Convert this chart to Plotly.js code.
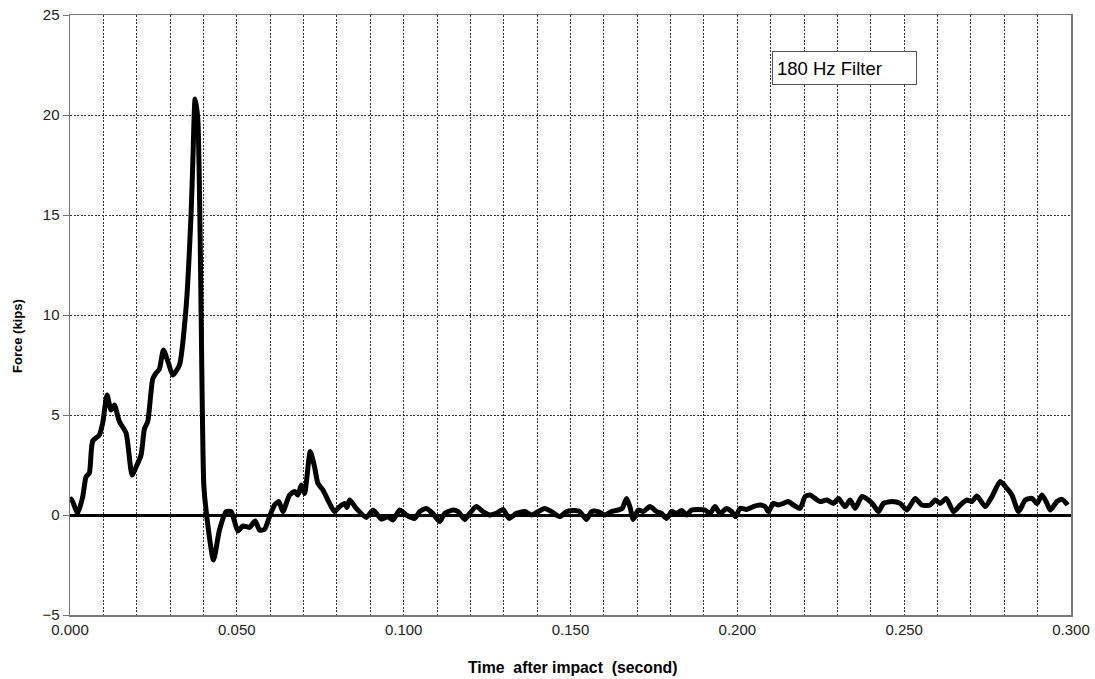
<!DOCTYPE html>
<html>
<head>
<meta charset="utf-8">
<script src="https://cdn.plot.ly/plotly-3.0.1.min.js"></script>
<style>html,body{margin:0;padding:0;background:#fff;}#chart{width:1095px;height:679px;}</style>
</head>
<body>
<div id="chart"></div>
<script>
const timeSec = [0.0000,0.0004,0.0023,0.0038,0.0048,0.0058,0.0068,0.0088,0.0098,0.0111,0.0123,0.0133,0.0148,0.0168,0.0186,0.0198,0.0213,0.0223,0.0233,0.0248,0.0258,0.0268,0.0280,0.0295,0.0308,0.0328,0.0348,0.0363,0.0368,0.0375,0.0383,0.0390,0.0396,0.0401,0.0408,0.0430,0.0448,0.0468,0.0483,0.0503,0.0518,0.0538,0.0555,0.0568,0.0583,0.0598,0.0613,0.0626,0.0638,0.0658,0.0673,0.0683,0.0693,0.0703,0.0720,0.0733,0.0743,0.0758,0.0778,0.0793,0.0808,0.0823,0.0830,0.0838,0.0858,0.0888,0.0908,0.0933,0.0953,0.0968,0.0988,0.1008,0.1033,0.1048,0.1067,0.1087,0.1108,0.1123,0.1148,0.1163,0.1183,0.1198,0.1218,0.1238,0.1258,0.1278,0.1298,0.1316,0.1338,0.1363,0.1383,0.1398,0.1423,0.1443,0.1468,0.1488,0.1513,0.1528,0.1548,0.1563,0.1583,0.1603,0.1623,0.1643,0.1655,0.1668,0.1678,0.1688,0.1703,0.1718,0.1738,0.1758,0.1773,0.1788,0.1803,0.1818,0.1833,0.1848,0.1863,0.1883,0.1903,0.1918,0.1933,0.1948,0.1968,0.1983,0.1995,0.2008,0.2028,0.2048,0.2068,0.2083,0.2093,0.2108,0.2123,0.2138,0.2153,0.2168,0.2188,0.2203,0.2218,0.2233,0.2248,0.2268,0.2288,0.2303,0.2323,0.2338,0.2353,0.2373,0.2393,0.2408,0.2423,0.2438,0.2463,0.2488,0.2508,0.2533,0.2553,0.2578,0.2593,0.2608,0.2626,0.2648,0.2668,0.2688,0.2703,0.2718,0.2743,0.2763,0.2788,0.2808,0.2823,0.2843,0.2863,0.2883,0.2898,0.2913,0.2928,0.2938,0.2958,0.2973,0.2990];
const forceKips = [0.7,0.8,0.1,0.9,1.9,2.1,3.7,4.0,4.6,6.0,5.25,5.5,4.67,4.1,2.0,2.4,3.0,4.3,4.67,6.8,7.1,7.3,8.25,7.6,7.0,7.5,10.4,15.1,17.6,20.8,19.8,14.0,6.0,1.5,0.2,-2.25,-0.75,0.17,0.17,-0.8,-0.55,-0.62,-0.3,-0.75,-0.72,-0.08,0.5,0.67,0.17,1.0,1.17,1.0,1.5,1.08,3.17,2.4,1.58,1.25,0.58,0.17,0.42,0.58,0.38,0.75,0.33,-0.12,0.25,-0.2,-0.08,-0.25,0.25,0.0,-0.17,0.17,0.33,0.08,-0.33,0.08,0.25,0.17,-0.22,0.08,0.42,0.17,0.0,0.08,0.28,-0.17,0.08,0.17,0.0,0.12,0.33,0.17,-0.08,0.17,0.22,0.17,-0.22,0.17,0.17,0.0,0.17,0.25,0.33,0.83,0.42,-0.22,0.25,0.17,0.42,0.17,0.08,-0.17,0.17,0.08,0.22,0.0,0.25,0.28,0.25,0.08,0.42,0.08,0.33,0.17,-0.08,0.33,0.28,0.42,0.5,0.42,0.17,0.58,0.5,0.58,0.67,0.5,0.33,0.92,1.0,0.83,0.67,0.75,0.58,0.83,0.42,0.75,0.33,0.92,0.75,0.5,0.17,0.58,0.67,0.58,0.25,0.83,0.5,0.5,0.75,0.58,0.83,0.17,0.5,0.75,0.67,0.95,0.42,0.92,1.67,1.33,1.0,0.17,0.75,0.83,0.58,1.0,0.58,0.25,0.67,0.78,0.5];
const xTickVals = [0, 0.05, 0.1, 0.15, 0.2, 0.25, 0.3];
const xTickText = ['0.000','0.050','0.100','0.150','0.200','0.250','0.300'];
const yTickVals = [-5, 0, 5, 10, 15, 20, 25];
const legendLabel = '180 Hz Filter';
const xTitle = 'Time  after impact  (second)';
const yTitle = 'Force (kips)';

const font = 'Arial, "Liberation Sans", sans-serif';
const gridDash = '2px,1.5px';
const gridColor = '#333';
const trace = {
  x: timeSec, y: forceKips, type: 'scatter', mode: 'lines',
  line: {color: '#000', width: 5, shape: 'spline', smoothing: 0.6},
  hoverinfo: 'skip', showlegend: false
};
const layout = {
  width: 1095, height: 679,
  margin: {l: 70, r: 24, t: 15, b: 64},
  paper_bgcolor: '#fff', plot_bgcolor: '#fff',
  showlegend: false,
  xaxis: {
    range: [0, 0.3], tickvals: xTickVals, ticktext: xTickText,
    showgrid: true, gridcolor: gridColor, griddash: gridDash, gridwidth: 1,
    minor: {dtick: 0.01, tick0: 0, showgrid: true, gridcolor: gridColor, griddash: gridDash, gridwidth: 1},
    showline: true, linecolor: '#777', linewidth: 1.5, mirror: true,
    ticks: '', zeroline: false,
    tickfont: {family: font, size: 15, color: '#222'},
    fixedrange: true
  },
  yaxis: {
    range: [-5, 25], tickvals: yTickVals,
    showgrid: true, gridcolor: gridColor, griddash: gridDash, gridwidth: 1,
    showline: true, linecolor: '#777', linewidth: 1.5, mirror: true,
    ticks: 'outside', ticklen: 6, tickcolor: '#777',
    zeroline: true, zerolinecolor: '#000', zerolinewidth: 3,
    tickfont: {family: font, size: 15, color: '#222'},
    fixedrange: true
  },
  annotations: [{
    xref: 'paper', yref: 'paper', x: 0.7013, y: 0.9117, xanchor: 'left', yanchor: 'middle',
    text: legendLabel, showarrow: false, align: 'left', width: 135, height: 24,
    font: {family: font, size: 18.5, color: '#000'},
    bgcolor: '#fff', bordercolor: '#555', borderwidth: 1, borderpad: 4
  }, {
    xref: 'paper', yref: 'paper', x: 0.5025, y: -0.0883, xanchor: 'center', yanchor: 'middle',
    text: xTitle, showarrow: false,
    font: {family: font, size: 15.8, color: '#000', weight: 'bold'}
  }, {
    xref: 'paper', yref: 'paper', x: -0.052, y: 0.465, xanchor: 'center', yanchor: 'middle',
    text: yTitle, showarrow: false, textangle: -90,
    font: {family: font, size: 13, color: '#000', weight: 'bold'}
  }]
};
Plotly.newPlot('chart', [trace], layout, {displayModeBar: false, staticPlot: true});
</script>
</body>
</html>
